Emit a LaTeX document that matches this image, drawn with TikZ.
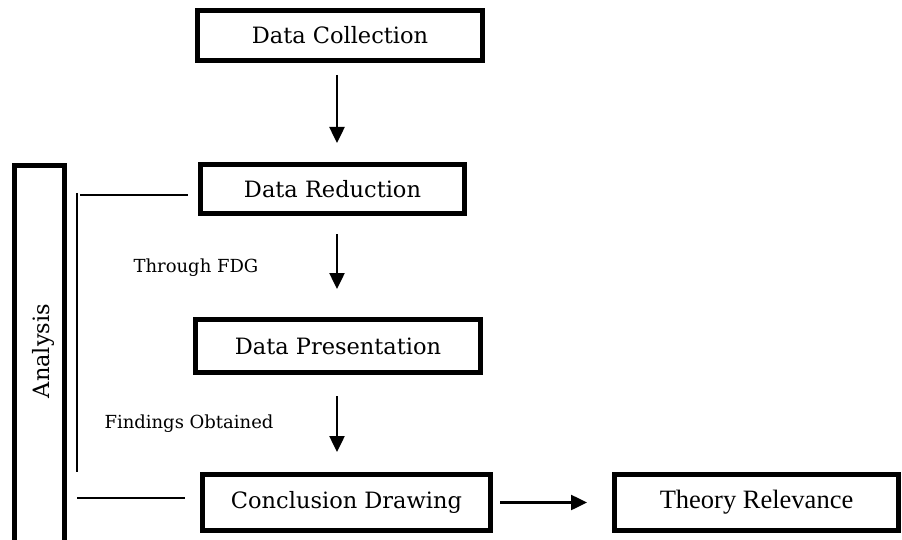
\documentclass[tikz,border=0pt]{standalone}
\usepackage{fontspec}
\setmainfont{DejaVu Serif}
\newfontfamily\timesfont{Liberation Serif}
\usetikzlibrary{arrows.meta}

\begin{document}
\begin{tikzpicture}[x=1pt, y=-1pt,
    stage/.style={rectangle, draw, line width=5pt, inner sep=0pt, font=\fontsize{22.5}{26}\selectfont},
    flow/.style={line width=2.5pt, -{Triangle[width=15pt, length=16pt]}},
    link/.style={line width=2pt},
    note/.style={inner sep=0pt, font=\fontsize{18}{21}\selectfont}]
        \path[use as bounding box, clip] (0,0) rectangle (902,540);

        % Nodes
        \node[stage, minimum width=285pt, minimum height=50pt] (dc) at (340,35.5) {Data Collection};
        \node[stage, minimum width=264pt, minimum height=49pt] (dr) at (332.5,189) {Data Reduction};
        \node[stage, minimum width=285pt, minimum height=53pt] (dp) at (338,346) {Data Presentation};
        \node[stage, minimum width=288pt, minimum height=56pt] (cd) at (346.5,502.5) {Conclusion Drawing};
        \node[stage, minimum width=284pt, minimum height=56pt, font=\timesfont\fontsize{26.5}{30}\selectfont] (tr) at (756.5,502.5) {Theory Relevance};
        \node[stage, minimum width=50pt, minimum height=379pt] (an) at (39.5,355) {};
        \node[rotate=90, inner sep=0pt, font=\fontsize{22.5}{26}\selectfont] (antext) at (43,351) {Analysis};

        % Labels
        \node[note] (fdg) at (196,268) {Through FDG};
        \node[note] (found) at (189,424) {Findings Obtained};

        % Helper points
        \coordinate (mid) at (337,0);
        \coordinate (bartop) at (77,193);
        \coordinate (barbot) at (77,472);
        \coordinate (rtop) at (80,195);
        \coordinate (rbot) at (77,498);

        % Edges
        \draw[flow, shorten <=12pt, shorten >=19pt] (dc.south -| mid) -- (dr.north -| mid);
        \draw[flow, shorten <=18pt, shorten >=28pt] (dr.south -| mid) -- (dp.north -| mid);
        \draw[flow, shorten <=21pt, shorten >=20pt] (dp.south -| mid) -- (cd.north -| mid);
        \draw[flow, shorten <=7pt, shorten >=25pt] (cd.east) -- (tr.west);

        % Analysis bracket
        \draw[link] (bartop) -- (barbot);
        \draw[link, shorten >=10pt] (rtop) -- (rtop -| dr.west);
        \draw[link, shorten >=15pt] (rbot) -- (rbot -| cd.west);
    \end{tikzpicture}
\end{document}
